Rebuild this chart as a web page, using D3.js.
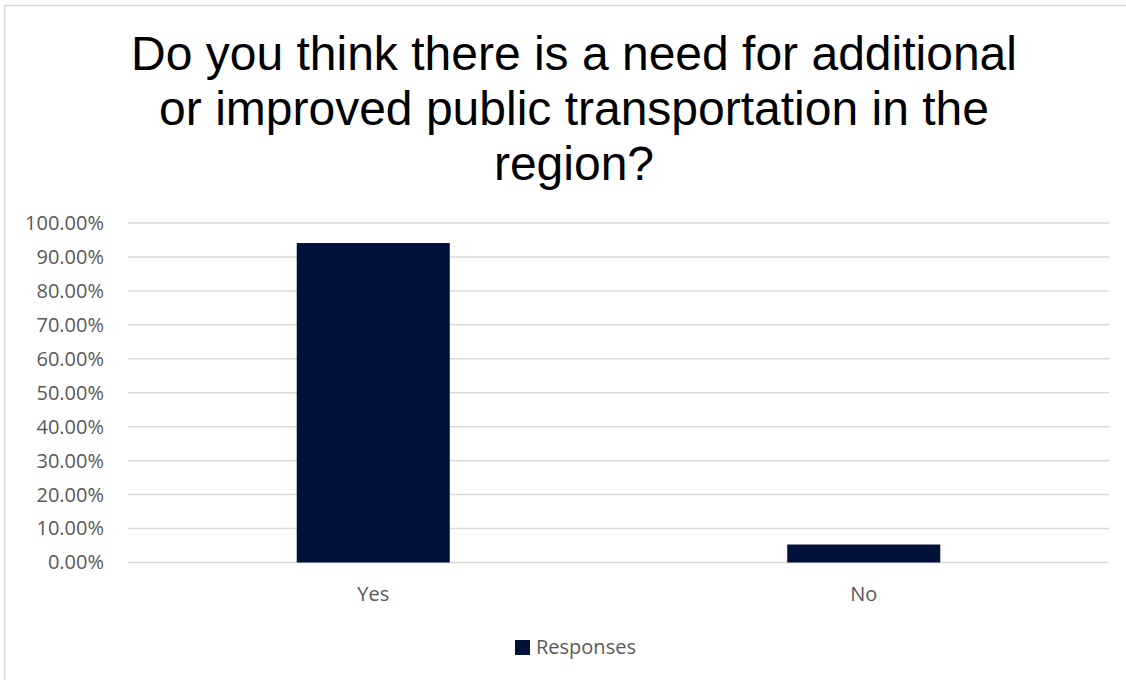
<!DOCTYPE html>
<html><head><meta charset="utf-8">
<script src="https://cdn.jsdelivr.net/npm/d3@7"></script>
<style>html,body{margin:0;padding:0;background:#fff;}svg{display:block;}</style>
</head><body>
<svg id="c" width="1126" height="680"></svg>
<script>
const titleLines = ["Do you think there is a need for additional", "or improved public transportation in the", "region?"];
const categories = ["Yes", "No"];
const values = [0.941, 0.053];
const seriesName = "Responses";
const yTicks = [0, 0.1, 0.2, 0.3, 0.4, 0.5, 0.6, 0.7, 0.8, 0.9, 1.0];

const svg = d3.select("#c");
const W = 1126, H = 680;
const plot = {left: 128, right: 1109, top: 223, bottom: 562.5};
const barColor = "#00113A";
const labelFont = "'Open Sans', sans-serif";
const labelSize = 20;

// chart border
svg.append("rect").attr("x", 4.5).attr("y", 5.5).attr("width", W + 10).attr("height", H + 10)
  .attr("fill", "#fff").attr("stroke", "#d9d9d9").attr("stroke-width", 1.5);

// title
svg.append("g").selectAll("text").data(titleLines).join("text")
  .attr("x", 574).attr("y", (d, i) => 70 + i * 55)
  .attr("text-anchor", "middle")
  .attr("font-family", "'Liberation Sans', Arial, sans-serif")
  .attr("font-size", 48).attr("fill", "#000")
  .text(d => d);

const x = d3.scaleBand().domain(categories).range([plot.left, plot.right])
  .paddingInner(0.688).paddingOuter(0.344);
const y = d3.scaleLinear().domain([0, 1]).range([plot.bottom, plot.top]);

// gridlines
svg.append("g").selectAll("line").data(yTicks).join("line")
  .attr("x1", plot.left).attr("x2", plot.right)
  .attr("y1", d => y(d)).attr("y2", d => y(d))
  .attr("stroke", "#d9d9d9").attr("stroke-width", 1.5);

// y axis labels
const yAxis = d3.axisLeft(y).tickValues(yTicks).tickFormat(d => d3.format(".2f")(d * 100) + "%").tickSize(0).tickPadding(24);
const yg = svg.append("g").attr("transform", `translate(${plot.left},0)`).call(yAxis);
yg.select(".domain").remove();
yg.selectAll("text").attr("font-family", labelFont).attr("font-size", labelSize).attr("fill", "#595959");

// bars
svg.append("g").selectAll("rect").data(categories).join("rect")
  .attr("x", d => x(d)).attr("width", x.bandwidth())
  .attr("y", (d, i) => y(values[i])).attr("height", (d, i) => y(0) - y(values[i]))
  .attr("fill", barColor);

// x axis labels
const xAxis = d3.axisBottom(x).tickSize(0).tickPadding(24);
const xg = svg.append("g").attr("transform", `translate(0,${plot.bottom})`).call(xAxis);
xg.select(".domain").remove();
xg.selectAll("text").attr("font-family", labelFont).attr("font-size", labelSize).attr("fill", "#595959");

// legend
const lg = svg.append("g").attr("transform", "translate(515,640)");
lg.append("rect").attr("width", 15).attr("height", 15).attr("fill", barColor);
lg.append("text").attr("x", 21).attr("y", 14).attr("font-family", labelFont)
  .attr("font-size", labelSize).attr("fill", "#595959").text(seriesName);
</script>
</body></html>
